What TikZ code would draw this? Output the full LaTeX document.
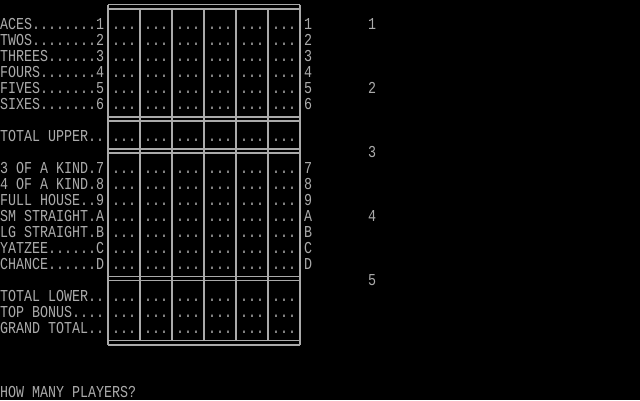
\documentclass[tikz,border=0pt]{standalone}
\usepackage{fontspec}
\setmonofont{Liberation Mono}
\begin{document}
\begin{tikzpicture}[x=1pt,y=-1pt,
  scr/.style={inner sep=0pt,anchor=base west,text=scrgray,font=\ttfamily\fontsize{13.33}{16}\selectfont},
  grid/.style={draw=scrgray,line width=1.2pt}]
\definecolor{scrgray}{HTML}{AAAAAA}
\fill[black] (0,0) rectangle (640,400);
\useasboundingbox (0,0) rectangle (640,400);
% labels
\foreach \r/\t/\e [count=\i] in {1/{ACES........1}/1,2/{TWOS........2}/2,3/{THREES......3}/3,4/{FOURS.......4}/4,5/{FIVES.......5}/5,6/{SIXES.......6}/6,8/{TOTAL UPPER..}/{},10/{3 OF A KIND.7}/7,11/{4 OF A KIND.8}/8,12/{FULL HOUSE..9}/9,13/{SM STRAIGHT.A}/A,14/{LG STRAIGHT.B}/B,15/{YATZEE......C}/C,16/{CHANCE......D}/D,18/{TOTAL LOWER..}/{},19/{TOP BONUS....}/{},20/{GRAND TOTAL..}/{}}{
  \node[scr] (lab\i) at (0,\r*16+13) {\scalebox{1}[1.25]{\t}};
  \node[scr] (rt\i) at (304,\r*16+13) {\scalebox{1}[1.25]{\e}};
  \foreach \c in {0,1,2,3,4,5}{
    \node[scr] (d\i-\c) at (112+\c*32,\r*16+13) {\scalebox{1}[1.25]{...}};
  }
}
\foreach \n/\r in {1/1,2/5,3/9,4/13,5/17}{
  \node[scr] (p\n) at (368,\r*16+13) {\scalebox{1}[1.25]{\n}};
}
\node[scr] (q) at (0,24*16+13) {\scalebox{1}[1.25]{HOW MANY PLAYERS?}};
% grid
\draw[grid] (108,4.5) -- (300,4.5) (108,9) -- (300,9);
\draw[grid] (108,117) -- (300,117) (108,121) -- (300,121);
\draw[grid] (108,149) -- (300,149) (108,153) -- (300,153);
\draw[grid] (108,276.7) -- (300,276.7) (108,280.7) -- (300,280.7);
\draw[grid] (108,340.7) -- (300,340.7) (108,345) -- (300,345);
\draw[grid] (108,4.5) -- (108,345) (300,4.5) -- (300,345);
\foreach \x in {140,172,204,236,268}{\draw[grid] (\x,9) -- (\x,340.7);}
\end{tikzpicture}
\end{document}
